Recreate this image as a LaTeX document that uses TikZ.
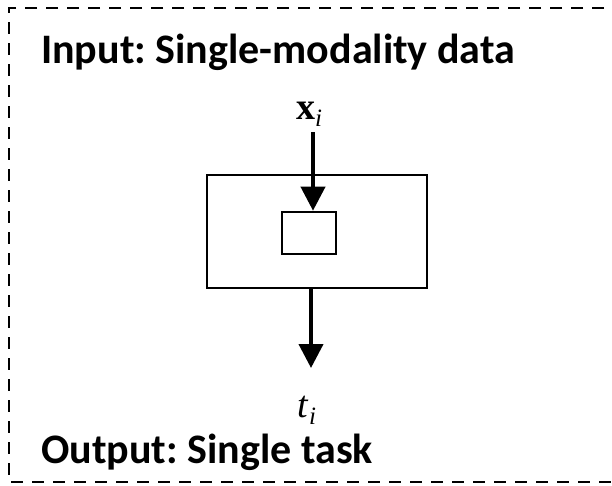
\documentclass[tikz,border=0pt]{standalone}
\usepackage{fontspec}
\setmainfont{Liberation Serif}
\newfontfamily\headfont{Carlito}
\usetikzlibrary{arrows.meta}
\frenchspacing
\tikzset{
  heading/.style={anchor=base west, inner sep=0pt, font=\headfont\bfseries\fontsize{42}{46}\selectfont},
  block/.style={draw, line width=2.6pt, inner sep=0pt},
  flow/.style={line width=4pt, -{Triangle[length=24pt, width=24pt]}},
  symb/.style={anchor=base, inner sep=0pt, font=\fontsize{38}{42}\selectfont},
  frame/.style={line width=2.8pt, dash pattern=on 12pt off 9pt}
}
\begin{document}
\begin{tikzpicture}[x=1pt, y=-1pt]
  \useasboundingbox (0,0) rectangle (612,485);
  \clip (0,0) rectangle (612,485);
  % dashed frame running off the right edge
  \draw[frame] (625,8) -- (9,8) -- (9,482) -- (625,482);
  % headings
  \node[heading] (inlabel) at (41,63) {Input: Single-modality data};
  \node[heading] (outlabel) at (41,463) {Output: Single task};
  % model blocks
  \node[block, minimum width=220pt, minimum height=113pt] (outer) at (317,231.5) {};
  \node[block, minimum width=54pt, minimum height=42pt] (inner) at (309,233) {};
  % input and output symbols
  \node[symb] (x) at (309,119) {\textbf{x}\raisebox{-0.2em}{\fontsize{25}{28}\selectfont\itshape i}};
  \node[symb] (t) at (307,417) {\textit{t}\raisebox{-0.2em}{\fontsize{25}{28}\selectfont\itshape i}};
  % data flow
  \coordinate (xs) at (313,132);
  \coordinate (tp) at (311,368);
  \draw[flow] (xs) -- (xs |- inner.north);
  \draw[flow] (outer.south -| tp) -- (tp);
\end{tikzpicture}
\end{document}
